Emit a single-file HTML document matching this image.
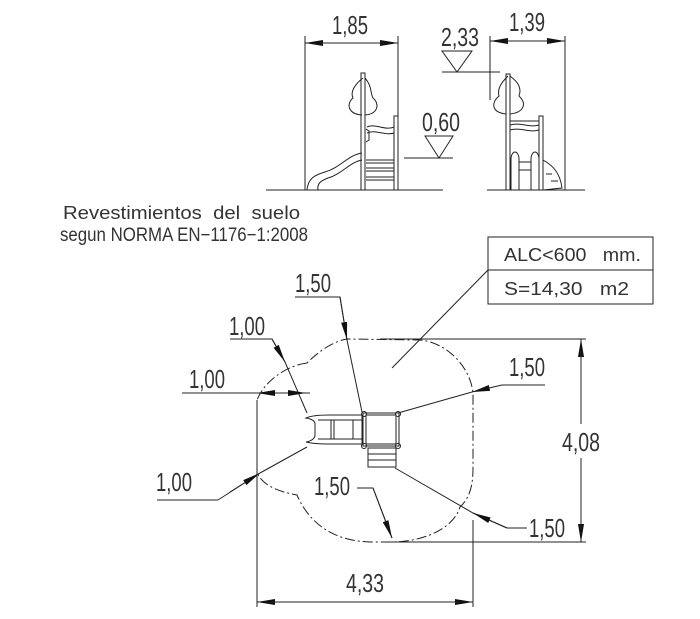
<!DOCTYPE html>
<html><head><meta charset="utf-8"><style>
html,body{margin:0;padding:0;background:#fff;}
svg{display:block;}
text{font-family:"Liberation Sans",sans-serif;fill:#333;white-space:pre;}
</style></head><body>
<svg width="700" height="619" viewBox="0 0 700 619" xmlns="http://www.w3.org/2000/svg">
<defs>
<marker id="a" viewBox="0 0 18 6" refX="18" refY="3" markerWidth="18" markerHeight="6" orient="auto" markerUnits="userSpaceOnUse"><path d="M0,0 L18,3 L0,6 Z" fill="#111"/></marker>
</defs>
<g stroke="#222" stroke-width="1" fill="none">
<line x1="305" y1="36" x2="305" y2="190"/>
<line x1="398" y1="36" x2="398" y2="190"/>
<line x1="323" y1="43" x2="305" y2="43" marker-end="url(#a)"/>
<line x1="380" y1="43" x2="398" y2="43" marker-end="url(#a)"/>
<line x1="320" y1="43" x2="385" y2="43"/>
<line x1="266" y1="190" x2="443" y2="190"/>
<line x1="404" y1="158" x2="453" y2="158"/>
<path d="M425,136 L453,136 L439,158 Z"/>
<line x1="442" y1="72" x2="500" y2="72"/>
<path d="M442,51 L472,51 L457,72 Z"/>
<line x1="490" y1="36" x2="490" y2="100"/>
<line x1="565" y1="36" x2="565" y2="190"/>
<line x1="507" y1="41" x2="490" y2="41" marker-end="url(#a)"/>
<line x1="548" y1="41" x2="565" y2="41" marker-end="url(#a)"/>
<line x1="505" y1="41" x2="550" y2="41"/>
<line x1="487" y1="190" x2="585" y2="190"/>
<rect x="361" y="73" width="4" height="117"/>
<path d="M363,78 C355,84 350,92 353,98 C346,104 348,114 362,115"/>
<path d="M365,78 C372,86 370,92 373,98 C380,104 378,114 365,115"/>
<rect x="394" y="116" width="4" height="74"/>
<path d="M367,127 C375,123 385,131 394,127 M367,133 C375,129 385,136 394,133"/>
<path d="M366,129 L369,131 L369,140 L366,142"/>
<line x1="366" y1="160" x2="394" y2="160"/><line x1="366" y1="163" x2="394" y2="163"/>
<line x1="366" y1="168" x2="394" y2="168"/><line x1="366" y1="171" x2="394" y2="171"/>
<line x1="366" y1="177" x2="394" y2="177"/><line x1="366" y1="180" x2="394" y2="180"/>
<path d="M362,153 C348,155 340,168 325,172 C315,175 308,178 307,190 M362,160 C350,162 342,174 328,178 C320,181 317,184 318,190"/>
<rect x="506" y="74" width="4" height="116"/>
<path d="M508,76 C502,82 497,88 499,96 C492,102 490,112 506,114"/>
<path d="M510,76 C518,82 522,88 519,96 C526,102 526,112 510,114"/>
<rect x="539" y="116" width="4" height="74"/>
<path d="M510,121 L539,121 M510,125 C520,122 530,128 539,125 M510,130 C520,127 530,133 539,130"/>
<path d="M511,190 L511,158 C512,150 518,150 519,158 L519,190 M531,190 L531,158 C532,150 538,150 539,158 L539,190 M519,162 L531,162 M519,170 L531,170"/>
<path d="M543,160 C552,165 560,172 562,188 L543,190"/>
<line x1="546" y1="174" x2="552" y2="174"/><line x1="551" y1="181" x2="558" y2="181"/>
<rect x="488" y="237" width="165" height="67"/>
<line x1="488" y1="270" x2="653" y2="270"/>
<line x1="488" y1="270" x2="392" y2="368"/>
<path d="M307,363 C290,365 266,378 257,400 L257,472 C262,486 280,492 297,495 C310,525 335,541 370,542 L393,542 C430,541 455,525 460,507 C472,496 473,480 473,467 L473,393 C470,365 445,342 420,340 L347,339 C330,342 315,355 307,363 Z" stroke-dasharray="10,3,2,3"/>
<line x1="380" y1="339" x2="586" y2="339"/>
<line x1="390" y1="542" x2="586" y2="542"/>
<line x1="581" y1="355" x2="581" y2="339" marker-end="url(#a)"/>
<line x1="581" y1="525" x2="581" y2="542" marker-end="url(#a)"/>
<line x1="581" y1="350" x2="581" y2="424"/>
<line x1="581" y1="458" x2="581" y2="530"/>
<line x1="257" y1="400" x2="257" y2="607"/>
<line x1="473" y1="520" x2="473" y2="607"/>
<line x1="275" y1="602" x2="257" y2="602" marker-end="url(#a)"/>
<line x1="455" y1="602" x2="473" y2="602" marker-end="url(#a)"/>
<line x1="270" y1="602" x2="460" y2="602"/>
<polyline points="295,297 340,297 347,340"/><line x1="340" y1="297" x2="347" y2="340" marker-end="url(#a)"/><line x1="347" y1="340" x2="362" y2="412"/>
<polyline points="230,339 272,339 285,362"/><line x1="272" y1="339" x2="285" y2="362" marker-end="url(#a)"/><line x1="285" y1="362" x2="307" y2="413"/>
<line x1="182" y1="393" x2="310" y2="393"/>
<line x1="275" y1="393" x2="257" y2="393" marker-end="url(#a)"/>
<line x1="288" y1="393" x2="306" y2="393" marker-end="url(#a)"/>
<polyline points="157,500 218,500"/><line x1="307" y1="447" x2="260" y2="473"/><line x1="218" y1="500" x2="260" y2="473" /><line x1="230" y1="492" x2="260" y2="473" marker-end="url(#a)"/>
<polyline points="545,385 502,385"/><line x1="398" y1="413" x2="472" y2="392"/><line x1="502" y1="385" x2="472" y2="392" marker-end="url(#a)"/>
<polyline points="357,488 373,488 392,538"/><line x1="373" y1="488" x2="392" y2="538" marker-end="url(#a)"/>
<polyline points="395,468 473,513 507,528 527,528"/><line x1="507" y1="528" x2="473" y2="513" marker-end="url(#a)"/>
<path d="M306,418 C310,416 318,415 330,415 L362,415 L362,444 L330,444 C318,444 310,443 306,442 C312,441 315,438 315,435 L315,424 C315,421 312,419 306,418 Z"/>
<line x1="318" y1="420" x2="362" y2="420"/><line x1="318" y1="439" x2="362" y2="439"/>
<line x1="331" y1="420" x2="331" y2="439"/><line x1="334" y1="420" x2="334" y2="439"/><line x1="353" y1="420" x2="353" y2="439"/>
<rect x="363" y="413" width="36" height="33"/>
<rect x="366" y="415" width="30" height="29"/>
<circle cx="364" cy="414" r="2.5"/><circle cx="398" cy="414" r="2.5"/><circle cx="364" cy="446" r="2.5"/><circle cx="398" cy="446" r="2.5"/>
<rect x="368" y="448" width="28" height="19"/>
<line x1="368" y1="454" x2="396" y2="454"/><line x1="368" y1="460" x2="396" y2="460"/>
</g>
<g font-size="26">
<text x="332" y="34" textLength="36" lengthAdjust="spacingAndGlyphs">1,85</text>
<text x="422" y="131" textLength="38" lengthAdjust="spacingAndGlyphs">0,60</text>
<text x="441" y="46" textLength="38" lengthAdjust="spacingAndGlyphs">2,33</text>
<text x="509" y="31" textLength="36" lengthAdjust="spacingAndGlyphs">1,39</text>
<text x="295" y="292" textLength="36" lengthAdjust="spacingAndGlyphs">1,50</text>
<text x="229" y="335" textLength="36" lengthAdjust="spacingAndGlyphs">1,00</text>
<text x="189" y="388" textLength="36" lengthAdjust="spacingAndGlyphs">1,00</text>
<text x="156" y="491" textLength="36" lengthAdjust="spacingAndGlyphs">1,00</text>
<text x="509" y="376" textLength="36" lengthAdjust="spacingAndGlyphs">1,50</text>
<text x="314" y="495" textLength="36" lengthAdjust="spacingAndGlyphs">1,50</text>
<text x="529" y="537" textLength="36" lengthAdjust="spacingAndGlyphs">1,50</text>
<text x="562" y="451" textLength="38" lengthAdjust="spacingAndGlyphs">4,08</text>
<text x="346" y="592" textLength="38" lengthAdjust="spacingAndGlyphs">4,33</text>
</g>
<g font-size="18">
<text x="63" y="219" textLength="237" lengthAdjust="spacingAndGlyphs">Revestimientos  del  suelo</text>
<text x="60" y="241" font-size="19" textLength="248" lengthAdjust="spacingAndGlyphs">segun NORMA EN−1176−1:2008</text>
<text x="504" y="261" textLength="137" lengthAdjust="spacingAndGlyphs">ALC&lt;600   mm.</text>
<text x="504" y="295" textLength="125" lengthAdjust="spacingAndGlyphs">S=14,30   m2</text>
</g>
</svg>
</body></html>
